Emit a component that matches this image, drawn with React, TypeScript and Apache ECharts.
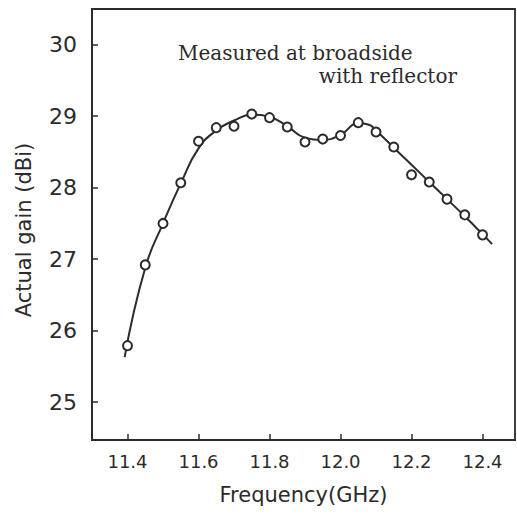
import React, { useEffect, useRef } from "react";
import * as echarts from "echarts";

const xTicks = [11.4, 11.6, 11.8, 12.0, 12.2, 12.4];
const yTicks = [25, 26, 27, 28, 29, 30];

const measuredFreq = [11.4, 11.45, 11.5, 11.55, 11.6, 11.65, 11.7, 11.75, 11.8, 11.85, 11.9, 11.95, 12.0, 12.05, 12.1, 12.15, 12.2, 12.25, 12.3, 12.35, 12.4];
const measuredGain = [25.79, 26.92, 27.5, 28.07, 28.65, 28.84, 28.86, 29.03, 28.98, 28.85, 28.64, 28.68, 28.73, 28.91, 28.78, 28.57, 28.18, 28.08, 27.84, 27.62, 27.34];

const curveFreq = [11.392, 11.45, 11.5, 11.55, 11.6, 11.65, 11.7, 11.75, 11.8, 11.85, 11.9, 11.95, 12.0, 12.05, 12.08, 12.1, 12.15, 12.2, 12.25, 12.3, 12.35, 12.4, 12.427];
const curveGain = [25.63, 26.88, 27.5, 28.06, 28.55, 28.8, 28.94, 29.02, 28.99, 28.86, 28.7, 28.67, 28.74, 28.9, 28.88, 28.8, 28.56, 28.32, 28.08, 27.84, 27.6, 27.35, 27.21];

const INK = "#2b2b2b";

export default function App() {
  const ref = useRef<HTMLDivElement>(null);
  useEffect(() => {
    if (!ref.current) return;
    const chart = echarts.init(ref.current, undefined, { renderer: "svg" });
    chart.setOption({
      animation: false,
      backgroundColor: "#ffffff",
      grid: {
        left: 92,
        top: 9,
        right: 2,
        bottom: 80,
        containLabel: false,
        outerBoundsMode: "none",
        show: true,
        borderColor: INK,
        borderWidth: 1.8,
      },
      xAxis: {
        type: "value",
        min: 11.3,
        max: 12.4915,
        name: "Frequency(GHz)",
        nameLocation: "middle",
        nameGap: 44,
        nameTextStyle: { fontFamily: "DejaVu Sans", fontSize: 21, color: INK },
        axisLine: { show: true, lineStyle: { color: INK, width: 2 } },
        axisTick: {
          show: true,
          inside: true,
          length: 6,
          customValues: xTicks,
          lineStyle: { color: INK, width: 1.5 },
        },
        axisLabel: {
          customValues: xTicks,
          formatter: (v: number) => v.toFixed(1),
          fontFamily: "DejaVu Sans",
          fontSize: 18,
          color: INK,
          margin: 12,
        },
        splitLine: { show: false },
      },
      yAxis: {
        type: "value",
        min: 24.47,
        max: 30.5,
        axisLine: { show: true, lineStyle: { color: INK, width: 2 } },
        axisTick: {
          show: true,
          inside: true,
          length: 6,
          customValues: yTicks,
          lineStyle: { color: INK, width: 1.5 },
        },
        axisLabel: {
          customValues: yTicks,
          formatter: (v: number) => String(v),
          fontFamily: "DejaVu Sans",
          fontSize: 22,
          color: INK,
          margin: 15,
        },
        splitLine: { show: false },
      },
      graphic: [
        {
          type: "text",
          x: 24,
          y: 230,
          rotation: Math.PI / 2,
          style: {
            text: "Actual gain (dBi)",
            fontFamily: "DejaVu Sans",
            fontSize: 21,
            fill: INK,
            align: "center",
            verticalAlign: "middle",
          },
        },
        {
          type: "text",
          left: 178,
          top: 43,
          style: {
            text: "Measured at broadside",
            fontFamily: "DejaVu Serif",
            fontSize: 20,
            fill: INK,
          },
        },
        {
          type: "text",
          right: 60,
          top: 66,
          style: {
            text: "with reflector",
            fontFamily: "DejaVu Serif",
            fontSize: 20,
            fill: INK,
          },
        },
      ],
      series: [
        {
          type: "line",
          data: curveFreq.map((f, i) => [f, curveGain[i]]),
          smooth: 0.5,
          showSymbol: false,
          lineStyle: { color: INK, width: 2 },
          z: 2,
        },
        {
          type: "scatter",
          data: measuredFreq.map((f, i) => [f, measuredGain[i]]),
          symbol: "circle",
          symbolSize: 9,
          itemStyle: { color: "#ffffff", borderColor: INK, borderWidth: 2, opacity: 1 },
          z: 3,
        },
      ],
    });
    return () => chart.dispose();
  }, []);
  return (
    <div
      ref={ref}
      style={{ position: "fixed", left: 0, top: 0, width: 517, height: 520 }}
    />
  );
}
